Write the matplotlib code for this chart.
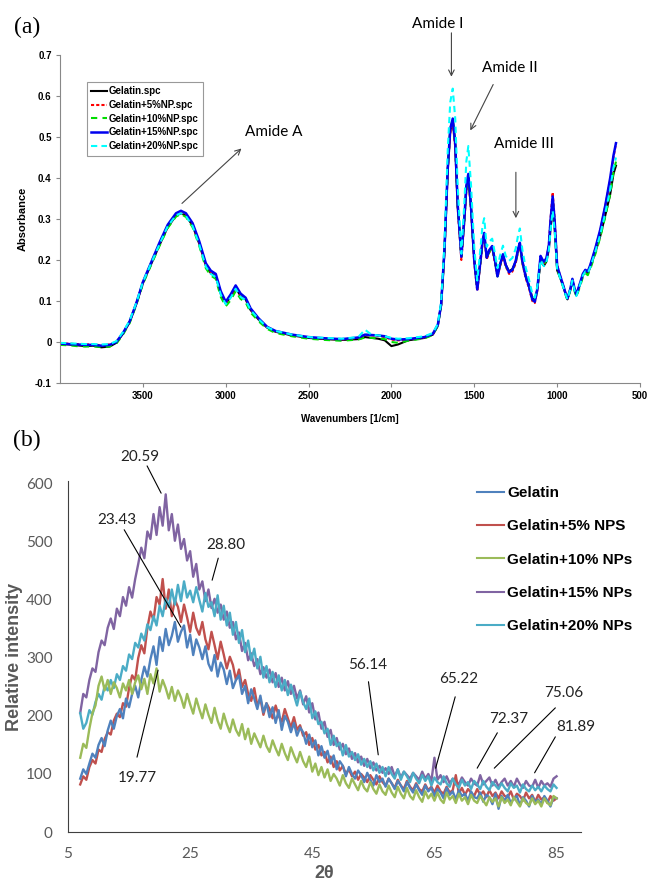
import numpy as np
import matplotlib
matplotlib.use("Agg")
import matplotlib.pyplot as plt

# ---------------- (a) FTIR spectra ----------------
wavenumber = [
    4000, 3950, 3900, 3850, 3800, 3750, 3700, 3660, 3620, 3580,
    3540, 3500, 3450, 3400, 3350, 3300, 3270, 3240, 3200, 3160,
    3120, 3090, 3060, 3030, 3000, 2970, 2940, 2910, 2880, 2850,
    2800, 2750, 2700, 2600, 2500, 2400, 2300, 2200, 2160, 2120,
    2080, 2040, 2000, 1960, 1900, 1800, 1750, 1720, 1700, 1680,
    1660, 1645, 1630, 1615, 1600, 1578, 1560, 1548, 1536, 1520,
    1500, 1482, 1465, 1450, 1440, 1425, 1410, 1392, 1375, 1360,
    1345, 1327, 1310, 1290, 1270, 1250, 1235, 1225, 1210, 1190,
    1170, 1150, 1135, 1120, 1100, 1090, 1080, 1065, 1050, 1040,
    1027, 1015, 1000, 985, 965, 950, 938, 920, 908, 895,
    884, 860, 845, 830, 815, 800, 770, 740, 710, 680,
    660, 645]

abs_gelatin = [
    -0.005, -0.006, -0.008, -0.010, -0.009, -0.013, -0.011, -0.002, 0.020, 0.048,
    0.092, 0.143, 0.190, 0.236, 0.280, 0.308, 0.314, 0.308, 0.284, 0.240,
    0.186, 0.168, 0.160, 0.118, 0.094, 0.110, 0.132, 0.112, 0.104, 0.078,
    0.054, 0.035, 0.025, 0.016, 0.010, 0.007, 0.005, 0.007, 0.012, 0.010,
    0.008, 0.004, -0.010, -0.006, 0.004, 0.010, 0.018, 0.040, 0.090, 0.220,
    0.420, 0.515, 0.540, 0.480, 0.330, 0.210, 0.300, 0.375, 0.405, 0.330,
    0.200, 0.132, 0.190, 0.245, 0.262, 0.205, 0.222, 0.232, 0.198, 0.162,
    0.188, 0.212, 0.188, 0.172, 0.178, 0.196, 0.226, 0.238, 0.196, 0.162,
    0.138, 0.108, 0.100, 0.128, 0.200, 0.192, 0.186, 0.196, 0.226, 0.275,
    0.325, 0.275, 0.175, 0.160, 0.138, 0.118, 0.104, 0.128, 0.150, 0.128,
    0.114, 0.142, 0.162, 0.172, 0.168, 0.182, 0.218, 0.258, 0.308, 0.360,
    0.410, 0.430]

abs_np5 = [
    -0.003, -0.004, -0.005, -0.006, -0.006, -0.008, -0.006, 0.000, 0.022, 0.050,
    0.094, 0.145, 0.193, 0.240, 0.283, 0.310, 0.316, 0.310, 0.286, 0.242,
    0.188, 0.170, 0.162, 0.120, 0.096, 0.112, 0.134, 0.114, 0.106, 0.080,
    0.056, 0.036, 0.026, 0.017, 0.011, 0.008, 0.006, 0.010, 0.018, 0.016,
    0.015, 0.012, 0.006, 0.004, 0.006, 0.011, 0.019, 0.041, 0.091, 0.222,
    0.418, 0.510, 0.535, 0.475, 0.325, 0.200, 0.292, 0.368, 0.398, 0.322,
    0.192, 0.124, 0.184, 0.240, 0.258, 0.202, 0.218, 0.228, 0.192, 0.158,
    0.184, 0.208, 0.184, 0.166, 0.172, 0.192, 0.222, 0.236, 0.192, 0.156,
    0.132, 0.100, 0.095, 0.124, 0.205, 0.198, 0.192, 0.200, 0.238, 0.300,
    0.365, 0.300, 0.188, 0.165, 0.140, 0.120, 0.106, 0.130, 0.152, 0.130,
    0.116, 0.144, 0.164, 0.174, 0.170, 0.186, 0.226, 0.272, 0.330, 0.395,
    0.450, 0.485]

abs_np10 = [
    -0.007, -0.008, -0.010, -0.011, -0.011, -0.012, -0.011, -0.004, 0.018, 0.046,
    0.090, 0.141, 0.188, 0.234, 0.278, 0.306, 0.312, 0.305, 0.280, 0.235,
    0.180, 0.162, 0.154, 0.110, 0.087, 0.102, 0.124, 0.105, 0.097, 0.072,
    0.050, 0.032, 0.022, 0.014, 0.008, 0.005, 0.003, 0.006, 0.011, 0.010,
    0.009, 0.007, 0.000, -0.002, 0.003, 0.009, 0.017, 0.039, 0.089, 0.220,
    0.422, 0.520, 0.545, 0.483, 0.332, 0.206, 0.298, 0.374, 0.404, 0.328,
    0.198, 0.130, 0.188, 0.244, 0.262, 0.204, 0.220, 0.230, 0.196, 0.160,
    0.186, 0.210, 0.186, 0.170, 0.176, 0.194, 0.224, 0.238, 0.194, 0.160,
    0.136, 0.104, 0.098, 0.126, 0.202, 0.196, 0.190, 0.198, 0.232, 0.288,
    0.348, 0.288, 0.180, 0.160, 0.136, 0.116, 0.102, 0.126, 0.148, 0.124,
    0.110, 0.138, 0.158, 0.168, 0.163, 0.178, 0.214, 0.255, 0.305, 0.360,
    0.415, 0.440]

abs_np15 = [
    -0.004, -0.005, -0.006, -0.007, -0.007, -0.009, -0.007, 0.000, 0.022, 0.050,
    0.094, 0.146, 0.194, 0.242, 0.286, 0.314, 0.320, 0.314, 0.290, 0.246,
    0.192, 0.174, 0.166, 0.124, 0.098, 0.116, 0.138, 0.118, 0.108, 0.082,
    0.057, 0.037, 0.027, 0.018, 0.012, 0.009, 0.007, 0.011, 0.018, 0.017,
    0.016, 0.014, 0.008, 0.006, 0.007, 0.012, 0.020, 0.042, 0.092, 0.224,
    0.425, 0.520, 0.545, 0.485, 0.335, 0.208, 0.302, 0.380, 0.410, 0.332,
    0.198, 0.128, 0.190, 0.248, 0.266, 0.206, 0.224, 0.234, 0.198, 0.160,
    0.188, 0.214, 0.188, 0.170, 0.176, 0.198, 0.228, 0.242, 0.198, 0.160,
    0.136, 0.104, 0.098, 0.128, 0.210, 0.202, 0.196, 0.204, 0.236, 0.296,
    0.355, 0.296, 0.186, 0.166, 0.140, 0.120, 0.106, 0.130, 0.154, 0.130,
    0.116, 0.146, 0.166, 0.176, 0.172, 0.188, 0.228, 0.274, 0.332, 0.400,
    0.455, 0.485]

abs_np20 = [
    -0.002, -0.003, -0.004, -0.005, -0.005, -0.006, -0.005, 0.002, 0.024, 0.052,
    0.095, 0.146, 0.192, 0.238, 0.282, 0.309, 0.314, 0.307, 0.283, 0.238,
    0.184, 0.166, 0.158, 0.116, 0.092, 0.108, 0.130, 0.110, 0.102, 0.078,
    0.055, 0.036, 0.027, 0.018, 0.012, 0.010, 0.008, 0.012, 0.030, 0.018,
    0.016, 0.014, 0.010, 0.008, 0.009, 0.014, 0.022, 0.044, 0.098, 0.240,
    0.470, 0.585, 0.618, 0.545, 0.380, 0.215, 0.340, 0.440, 0.478, 0.385,
    0.230, 0.150, 0.220, 0.285, 0.302, 0.232, 0.245, 0.252, 0.215, 0.180,
    0.210, 0.235, 0.210, 0.198, 0.205, 0.228, 0.262, 0.277, 0.225, 0.182,
    0.152, 0.118, 0.108, 0.135, 0.200, 0.192, 0.185, 0.194, 0.224, 0.272,
    0.320, 0.272, 0.176, 0.160, 0.136, 0.117, 0.104, 0.130, 0.150, 0.126,
    0.112, 0.142, 0.162, 0.172, 0.168, 0.182, 0.220, 0.262, 0.314, 0.372,
    0.425, 0.450]

ftir_labels = ["Gelatin.spc", "Gelatin+5%NP.spc", "Gelatin+10%NP.spc",
               "Gelatin+15%NP.spc", "Gelatin+20%NP.spc"]

# ---------------- (b) XRD patterns ----------------
two_theta = np.arange(7.0, 85.01, 0.5)

xrd_gelatin = [
    92, 108, 100, 118, 135, 128, 150, 162, 148, 175,
    192, 178, 200, 212, 196, 230, 215, 238, 252, 232,
    262, 285, 268, 298, 320, 288, 336, 312, 350, 322,
    338, 362, 328, 345, 356, 318, 340, 305, 332, 318,
    298, 320, 290, 278, 305, 268, 292, 280, 255, 278,
    248, 262, 270, 238, 252, 222, 246, 230, 212, 235,
    206, 222, 198, 215, 188, 210, 176, 200, 190, 172,
    188, 166, 180, 172, 152, 168, 146, 158, 132, 148,
    128, 140, 118, 132, 108, 122, 114, 96, 112, 100,
    92, 106, 98, 86, 102, 90, 80, 98, 86, 92,
    78, 92, 84, 74, 88, 80, 70, 86, 76, 68,
    82, 72, 64, 80, 70, 76, 62, 74, 68, 58,
    76, 64, 70, 56, 72, 62, 66, 54, 70, 60,
    58, 68, 52, 64, 60, 48, 66, 40, 62, 54,
    64, 50, 58, 62, 46, 60, 54, 44, 62, 52,
    56, 48, 62, 54, 44, 60, 58]

xrd_np5 = [
    82, 96, 90, 112, 124, 118, 142, 138, 160, 172,
    168, 192, 204, 198, 222, 216, 248, 270, 262, 300,
    322, 308, 352, 380, 365, 405, 392, 436, 385, 418,
    372, 400, 388, 362, 392, 370, 345, 378, 352, 340,
    362, 332, 315, 345, 322, 298, 328, 306, 282, 302,
    288, 262, 280, 250, 262, 238, 226, 248, 218, 230,
    202, 222, 212, 196, 218, 200, 190, 212, 196, 180,
    198, 176, 184, 166, 172, 150, 162, 142, 150, 132,
    138, 120, 130, 112, 122, 106, 114, 100, 108, 96,
    104, 90, 100, 94, 86, 98, 90, 82, 96, 86,
    80, 92, 84, 76, 90, 80, 74, 88, 78, 72,
    84, 74, 70, 82, 72, 78, 68, 80, 70, 66,
    78, 68, 72, 98, 66, 76, 64, 74, 68, 62,
    74, 64, 70, 60, 72, 62, 68, 58, 70, 62,
    60, 70, 56, 66, 62, 54, 68, 58, 64, 52,
    64, 56, 60, 50, 62, 54, 58]

xrd_np10 = [
    128, 152, 145, 178, 205, 218, 252, 268, 244, 262,
    238, 258, 248, 232, 256, 244, 262, 238, 258, 270,
    246, 264, 238, 272, 256, 282, 242, 262, 248, 230,
    250, 226, 244, 232, 214, 238, 220, 204, 230, 212,
    196, 220, 202, 188, 214, 192, 178, 204, 186, 172,
    194, 176, 166, 186, 160, 178, 152, 170, 158, 146,
    166, 148, 138, 158, 144, 132, 152, 136, 124, 146,
    132, 120, 138, 122, 112, 130, 104, 118, 98, 112,
    94, 108, 88, 100, 92, 80, 98, 84, 76, 92,
    82, 72, 88, 76, 70, 86, 74, 66, 82, 70,
    64, 80, 68, 60, 78, 66, 58, 76, 62, 56,
    72, 60, 52, 70, 58, 66, 54, 68, 56, 50,
    68, 56, 62, 50, 66, 54, 60, 48, 64, 54,
    50, 62, 54, 46, 60, 52, 58, 44, 60, 50,
    56, 46, 60, 52, 44, 58, 50, 46, 58, 48,
    54, 44, 58, 50, 46, 62, 58]

xrd_np15 = [
    205, 238, 232, 262, 282, 276, 310, 330, 322, 352,
    368, 350, 385, 372, 405, 390, 422, 404, 436, 462,
    490, 472, 518, 505, 548, 512, 560, 528, 582, 520,
    548, 502, 530, 488, 505, 468, 484, 440, 462, 418,
    432, 398, 418, 386, 402, 378, 392, 366, 380, 352,
    362, 332, 344, 312, 326, 296, 308, 286, 298, 272,
    284, 266, 280, 258, 274, 250, 266, 244, 260, 238,
    252, 230, 244, 220, 234, 206, 222, 194, 206, 178,
    190, 164, 176, 150, 162, 142, 152, 134, 144, 126,
    136, 120, 130, 114, 126, 110, 120, 106, 114, 102,
    110, 100, 112, 96, 108, 94, 104, 98, 92, 102,
    96, 90, 104, 92, 100, 88, 128, 90, 98, 86,
    96, 84, 92, 88, 82, 94, 86, 80, 92, 84,
    80, 98, 82, 88, 94, 80, 90, 78, 86, 92,
    80, 88, 78, 92, 82, 76, 88, 80, 78, 90,
    76, 88, 80, 84, 78, 92, 96]

xrd_np20 = [
    205, 178, 188, 210, 202, 224, 238, 228, 252, 244,
    262, 248, 272, 262, 286, 278, 306, 298, 326, 318,
    342, 330, 358, 348, 372, 356, 390, 372, 402, 388,
    418, 392, 426, 398, 432, 404, 416, 396, 422, 400,
    380, 412, 388, 396, 372, 408, 366, 390, 356, 378,
    340, 362, 326, 348, 310, 330, 296, 316, 282, 302,
    266, 286, 258, 276, 250, 270, 244, 262, 236, 254,
    236, 218, 242, 224, 212, 230, 196, 208, 186, 190,
    170, 178, 150, 166, 148, 154, 132, 150, 130, 138,
    124, 134, 116, 126, 112, 122, 106, 118, 102, 112,
    96, 112, 100, 92, 108, 90, 104, 96, 86, 102,
    92, 84, 98, 88, 96, 80, 94, 86, 82, 96,
    84, 78, 92, 82, 76, 90, 80, 86, 74, 88,
    82, 74, 88, 78, 72, 86, 80, 74, 84, 76,
    70, 84, 76, 80, 68, 82, 74, 70, 80, 72,
    78, 70, 80, 74, 70, 82, 76]

xrd_labels = ["Gelatin", "Gelatin+5% NPS", "Gelatin+10% NPs",
              "Gelatin+15% NPs", "Gelatin+20% NPs"]

arial = "Liberation Sans"
calib = ["Lato", "DejaVu Sans"]

fig = plt.figure(figsize=(6.54, 8.81), dpi=100)

# ---- panel (a)
ax1 = fig.add_axes([60 / 654, 1 - 383 / 881, 580 / 654, 328 / 881])
ax1.plot(wavenumber, abs_gelatin, color="black", lw=1.5, label=ftir_labels[0])
ax1.plot(wavenumber, abs_np5, color="red", lw=1.5, dashes=(1.5, 1), label=ftir_labels[1])
ax1.plot(wavenumber, abs_np10, color="#00dd00", lw=1.5, dashes=(3, 2.5), label=ftir_labels[2])
ax1.plot(wavenumber, abs_np15, color="#0000ee", lw=1.8, label=ftir_labels[3])
ax1.plot(wavenumber, abs_np20, color="cyan", lw=1.5, dashes=(3, 2), label=ftir_labels[4])
ax1.set_xlim(4000, 500)
ax1.set_ylim(-0.1, 0.7)
ax1.set_xticks([3500, 3000, 2500, 2000, 1500, 1000, 500])
ax1.set_yticks([-0.1, 0, 0.1, 0.2, 0.3, 0.4, 0.5, 0.6, 0.7])
ax1.set_yticklabels(["-0.1", "0", "0.1", "0.2", "0.3", "0.4", "0.5", "0.6", "0.7"])
for s in ["top", "right"]:
    ax1.spines[s].set_visible(False)
for s in ["left", "bottom"]:
    ax1.spines[s].set_color("#888888")
ax1.tick_params(length=3, color="#888888", pad=3)
for lab in ax1.get_xticklabels() + ax1.get_yticklabels():
    lab.set_fontfamily(arial)
    lab.set_fontweight("bold")
    lab.set_fontsize(7)
ax1.set_xlabel("Wavenumbers [1/cm]", family=arial, weight="bold", fontsize=7, labelpad=9)
ax1.set_ylabel("Absorbance", family=arial, weight="bold", fontsize=8)
ax1.yaxis.set_label_coords(-0.055, 0.5)
leg1 = ax1.legend(loc="upper left", bbox_to_anchor=(87 / 654, 1 - 82 / 881),
                  bbox_transform=fig.transFigure, borderaxespad=0,
                  prop={"family": arial, "weight": "bold", "size": 7},
                  fancybox=False, edgecolor="#999999", framealpha=1,
                  handlelength=1.6, handletextpad=0.15, labelspacing=0.38,
                  borderpad=0.45)
leg1.get_frame().set_linewidth(0.8)

arrow_a = dict(arrowstyle="->", color="#444444", lw=0.8, shrinkA=0, shrinkB=0)
ax1.annotate("", xy=(2905, 0.472), xytext=(3264, 0.338), arrowprops=arrow_a, annotation_clip=False)
ax1.text(2708, 0.511, "Amide A", family=calib, fontsize=11, ha="center", va="center")
ax1.annotate("", xy=(1638, 0.647), xytext=(1638, 0.754), arrowprops=arrow_a, annotation_clip=False)
ax1.text(1721, 0.775, "Amide I", family=calib, fontsize=11, ha="center", va="center", clip_on=False)
ax1.annotate("", xy=(1524, 0.516), xytext=(1386, 0.628), arrowprops=arrow_a, annotation_clip=False)
ax1.text(1285, 0.669, "Amide II", family=calib, fontsize=11, ha="center", va="center")
ax1.annotate("", xy=(1249, 0.302), xytext=(1249, 0.414), arrowprops=arrow_a, annotation_clip=False)
ax1.text(1201, 0.482, "Amide III", family=calib, fontsize=11, ha="center", va="center")

fig.text(27 / 654, 1 - 27 / 881, "(a)", family="Liberation Serif", fontsize=17, ha="center", va="center")

# ---- panel (b)
ax2 = fig.add_axes([68 / 654, 1 - 832 / 881, 513 / 654, 351 / 881])
xrd_colors = ["#4F81BD", "#C0504D", "#9BBB59", "#8064A2", "#4BACC6"]
xrd_series = [xrd_gelatin, xrd_np5, xrd_np10, xrd_np15, xrd_np20]
order = [3, 1, 4, 0, 2]
lines = {}
for i in order:
    lines[i], = ax2.plot(two_theta, xrd_series[i], color=xrd_colors[i], lw=1.7)
ax2.set_xlim(5, 89)
ax2.set_ylim(0, 605)
ax2.set_xticks([5, 25, 45, 65, 85])
ax2.set_yticks([0, 100, 200, 300, 400, 500, 600])
for s in ["top", "right"]:
    ax2.spines[s].set_visible(False)
for s in ["left", "bottom"]:
    ax2.spines[s].set_color("#404040")
ax2.tick_params(length=0, labelsize=11, labelcolor="#595959")
ax2.tick_params(axis="x", pad=11)
ax2.tick_params(axis="y", pad=11)
for lab in ax2.get_xticklabels() + ax2.get_yticklabels():
    lab.set_fontfamily(calib)
ax2.set_xlabel("2θ", family=arial, weight="bold", fontsize=13, color="#595959")
ax2.xaxis.set_label_coords(0.5, -0.095)
ax2.set_ylabel("Relative intensity", family=arial, weight="bold",
               fontsize=13, color="#595959")
ax2.yaxis.set_label_coords(-0.088, 0.5)

leg2 = ax2.legend([lines[i] for i in range(5)], xrd_labels, loc="upper left",
                  bbox_to_anchor=(471 / 654, 1 - 480 / 881),
                  bbox_transform=fig.transFigure, borderaxespad=0, frameon=False,
                  prop={"family": arial, "weight": "bold", "size": 11},
                  handlelength=1.75, handletextpad=0.2, labelspacing=1.26)
for h in leg2.get_lines():
    h.set_linewidth(1.5)

peak_labels = ["20.59", "23.43", "28.80", "19.77", "56.14", "65.22", "75.06", "72.37", "81.89"]
peak_text_xy = [(16.8, 647), (13.0, 538), (30.9, 495), (16.3, 93), (54.0, 288),
                (68.9, 264), (86.1, 240), (77.1, 195), (88.1, 181)]
peak_line_from = [(17.95, 631), (14.2, 521), (29.6, 472), (16.3, 129), (54.2, 259),
                  (68.4, 233), (84.8, 214), (75.3, 171), (84.8, 164)]
peak_line_to = [(20.25, 584), (23.5, 353), (28.6, 434), (19.75, 279), (55.8, 133),
                (65.2, 110), (74.8, 110), (72.0, 110), (81.4, 102)]
for lab, txy, p0, p1 in zip(peak_labels, peak_text_xy, peak_line_from, peak_line_to):
    ax2.annotate("", xy=p1, xytext=p0, annotation_clip=False,
                 arrowprops=dict(arrowstyle="-", color="black", lw=0.8, shrinkA=0, shrinkB=0))
    ax2.text(txy[0], txy[1], lab, family=calib, fontsize=11, ha="center", va="center",
             color="#222222", clip_on=False)

fig.text(27 / 654, 1 - 440 / 881, "(b)", family="Liberation Serif", fontsize=17, ha="center", va="center")

fig.savefig("out.png", dpi=100)
